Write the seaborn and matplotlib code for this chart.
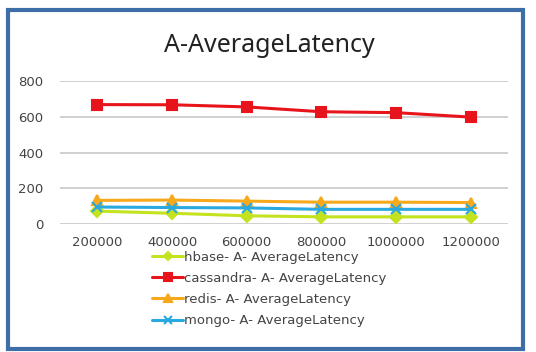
import numpy as np
import pandas as pd
import matplotlib.pyplot as plt
import seaborn as sns
from matplotlib.patches import Rectangle

sns.set_style('white')
plt.rcParams['font.family'] = ['DejaVu Sans']

records = ['200000', '400000', '600000', '800000', '1000000', '1200000']
hbase = [72, 60, 46, 40, 40, 40]
cassandra = [668, 667, 655, 628, 623, 598]
redis = [132, 134, 128, 122, 122, 120]
mongo = [95, 92, 90, 82, 82, 82]

names = ['hbase- A- AverageLatency', 'cassandra- A- AverageLatency',
         'redis- A- AverageLatency', 'mongo- A- AverageLatency']
colors = ['#c5e21e', '#e8141b', '#f7a81b', '#2aa9e0']
marks = ['D', 's', '^', 'x']
msizes = [6, 7.5, 7, 7]

fig = plt.figure(figsize=(5.36, 3.52), dpi=100)
ax = fig.add_axes([60/536, 1 - 224/352, 448/536, 143/352])

for name, vals, c, m, ms in zip(names, [hbase, cassandra, redis, mongo], colors, marks, msizes):
    sns.lineplot(x=records, y=vals, color=c, marker=m, label=name, sort=False,
                 linewidth=2.2, markersize=ms, markeredgewidth=1.5,
                 markeredgecolor=c, ax=ax)

ax.set_xlim(-0.5, 5.5)
ax.set_ylim(0, 800)
ax.set_yticks([0, 200, 400, 600, 800])
ax.yaxis.grid(True, color='#c8c8c8', linewidth=1.2)
for s in ax.spines.values():
    s.set_visible(False)
ax.set_xlabel('')
ax.set_ylabel('')
ax.tick_params(axis='both', labelsize=9.5, colors='#444444', length=0)
ax.tick_params(axis='x', pad=9)
ax.tick_params(axis='y', pad=12)

h, l = ax.get_legend_handles_labels()
ax.legend_.remove()
fig.legend(h, l, loc='center', bbox_to_anchor=(0.502, 0.179), frameon=False,
           fontsize=9.5, labelspacing=0.62, handlelength=2.4, handletextpad=0.05,
           markerscale=0.75, labelcolor='#444444')

fig.text(0.502, 1 - 45/352, 'A-AverageLatency', ha='center', va='center',
         fontsize=18, color='#222222', family=['Noto Sans', 'DejaVu Sans'])

fig.patches.append(Rectangle((8/536, 3/352), 515/536, 339/352, transform=fig.transFigure,
                             fill=False, edgecolor='#3d6ea8', linewidth=3))

fig.savefig('out.png', dpi=100)
